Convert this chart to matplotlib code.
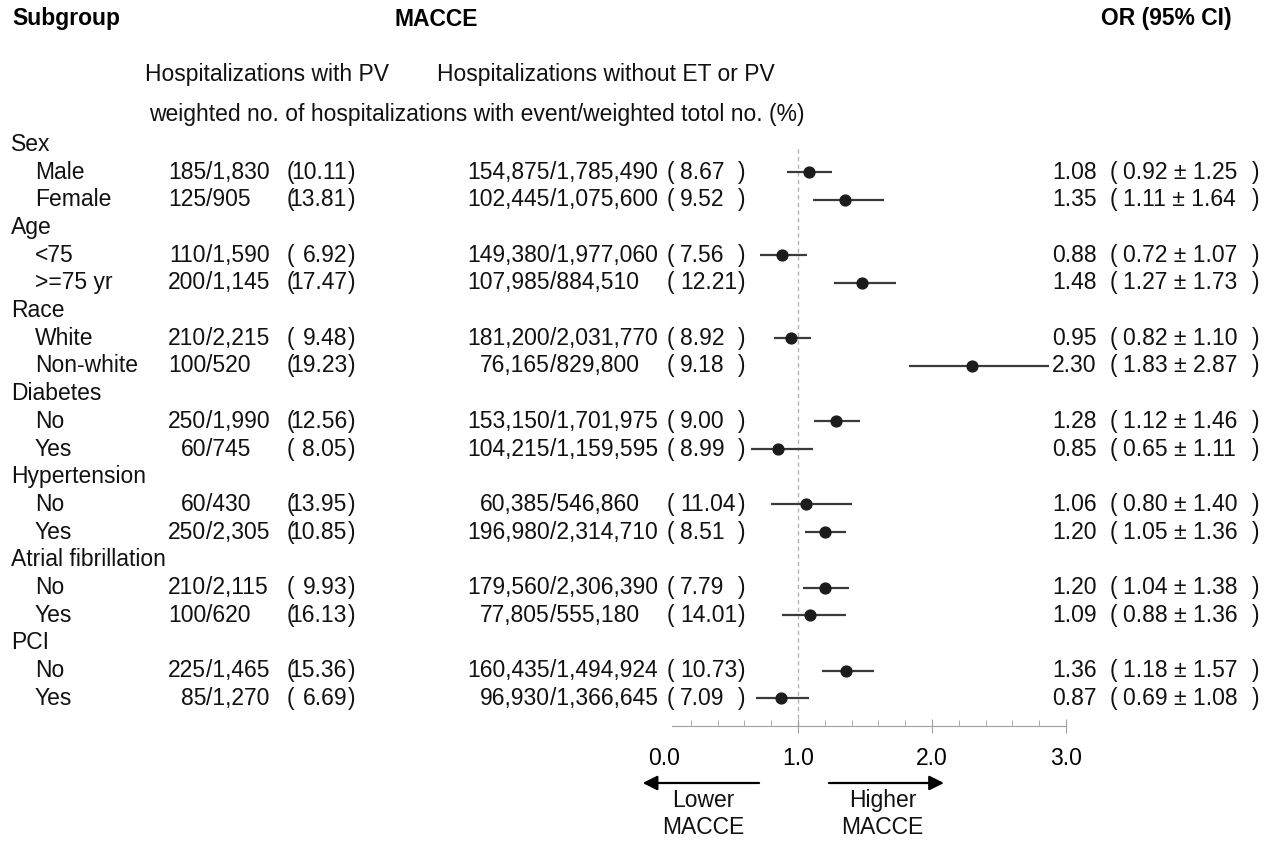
import matplotlib
matplotlib.use("Agg")
import matplotlib.pyplot as plt
from matplotlib.transforms import blended_transform_factory
from matplotlib.ticker import MultipleLocator

W, H = 1272, 841
FS = 16.5
plt.rcParams['font.family'] = ['Liberation Sans', 'DejaVu Sans']

# subgroups and their rows
groups = ["Sex", "Age", "Race", "Diabetes", "Hypertension", "Atrial fibrillation", "PCI"]
items = [["Male", "Female"], ["<75", ">=75 yr"], ["White", "Non-white"], ["No", "Yes"],
         ["No", "Yes"], ["No", "Yes"], ["No", "Yes"]]

# hospitalizations with PV
pv_events = [185, 125, 110, 200, 210, 100, 250, 60, 60, 250, 210, 100, 225, 85]
pv_totals = [1830, 905, 1590, 1145, 2215, 520, 1990, 745, 430, 2305, 2115, 620, 1465, 1270]
pv_pct = [10.11, 13.81, 6.92, 17.47, 9.48, 19.23, 12.56, 8.05, 13.95, 10.85, 9.93, 16.13, 15.36, 6.69]

# hospitalizations without ET or PV
ref_events = [154875, 102445, 149380, 107985, 181200, 76165, 153150, 104215,
              60385, 196980, 179560, 77805, 160435, 96930]
ref_totals = [1785490, 1075600, 1977060, 884510, 2031770, 829800, 1701975, 1159595,
              546860, 2314710, 2306390, 555180, 1494924, 1366645]
ref_pct = [8.67, 9.52, 7.56, 12.21, 8.92, 9.18, 9.00, 8.99, 11.04, 8.51, 7.79, 14.01, 10.73, 7.09]

# odds ratios
or_est = [1.08, 1.35, 0.88, 1.48, 0.95, 2.30, 1.28, 0.85, 1.06, 1.20, 1.20, 1.09, 1.36, 0.87]
or_lo = [0.92, 1.11, 0.72, 1.27, 0.82, 1.83, 1.12, 0.65, 0.80, 1.05, 1.04, 0.88, 1.18, 0.69]
or_hi = [1.25, 1.64, 1.07, 1.73, 1.10, 2.87, 1.46, 1.11, 1.40, 1.36, 1.38, 1.36, 1.57, 1.08]

fig = plt.figure(figsize=(W / 100, H / 100), dpi=100)
ax = fig.add_axes([664 / W, 1 - 726 / H, (1066 - 664) / W, (726 - 130) / H])
ax.set_xlim(0, 3)
ax.set_ylim(21.0, -0.52)

tr = blended_transform_factory(fig.transFigure, ax.transData)
trx = blended_transform_factory(ax.transData, fig.transFigure)


def px(x):
    return x / W


def txt(x, y, s, **kw):
    kw.setdefault('ha', 'left')
    ax.text(px(x), y, s, transform=tr, va='center', fontsize=FS, color='#111111',
            clip_on=False, **kw)


# build rows
row = 0
k = 0
ys = []
for g, its in zip(groups, items):
    txt(11, row, g)
    row += 1
    for it in its:
        txt(35, row, it)
        txt(206, row, f"{pv_events[k]:,}", ha='right')
        txt(206, row, f"/{pv_totals[k]:,}")
        txt(287, row, "(")
        txt(347, row, f"{pv_pct[k]:.2f}", ha='right')
        txt(348, row, ")")
        txt(550, row, f"{ref_events[k]:,}", ha='right')
        txt(550, row, f"/{ref_totals[k]:,}")
        txt(667, row, "(")
        txt(680, row, f"{ref_pct[k]:.2f}")
        txt(745, row, ")", ha='right')
        txt(1052, row, f"{or_est[k]:.2f}")
        txt(1110, row, "(")
        txt(1123, row, f"{or_lo[k]:.2f} \u00b1 {or_hi[k]:.2f}")
        txt(1259, row, ")", ha='right')
        ys.append(row)
        row += 1
        k += 1

# forest marks
ax.hlines(ys, or_lo, or_hi, color='#3a3a3a', lw=1.6, zorder=2)
ax.plot(or_est, ys, 'o', color='#1c1c1c', ms=7.8, zorder=3)
ax.axvline(1.0, ymax=(726 - 147) / (726 - 130), color='#b5b5b5', lw=1, ls=(0, (3, 2.5)), zorder=1)

# axis styling
for s in ['left', 'top', 'right']:
    ax.spines[s].set_visible(False)
ax.spines['bottom'].set_bounds(0.06, 3.0)
ax.spines['bottom'].set_color('#a0a0a0')
ax.set_yticks([])
ax.set_xticks([0, 1, 2, 3])
ax.set_xticklabels(["0.0", "1.0", "2.0", "3.0"], fontsize=FS)
ax.xaxis.set_minor_locator(MultipleLocator(0.2))
ax.tick_params(axis='x', which='major', direction='inout', length=10, color='#a0a0a0', pad=10)
ax.tick_params(axis='x', which='minor', direction='in', length=4, color='#a0a0a0')
ax.xaxis.get_major_ticks()[0].tick1line.set_visible(False)
ax.patch.set_visible(False)

# direction arrows
ya = 1 - 783 / H
ax.annotate("", xy=(-0.18, ya), xytext=(0.73, ya), xycoords=trx, textcoords=trx,
            arrowprops=dict(arrowstyle="-|>", color='black', lw=1.6, mutation_scale=22),
            annotation_clip=False)
ax.annotate("", xy=(2.11, ya), xytext=(1.21, ya), xycoords=trx, textcoords=trx,
            arrowprops=dict(arrowstyle="-|>", color='black', lw=1.6, mutation_scale=22),
            annotation_clip=False)
ax.text(0.29, 1 - 814 / H, "Lower\nMACCE", transform=trx, ha='center', va='center',
        fontsize=FS, linespacing=1.25, color='#111111')
ax.text(1.63, 1 - 814 / H, "Higher\nMACCE", transform=trx, ha='center', va='center',
        fontsize=FS, linespacing=1.25, color='#111111')

# headers
fig.text(px(12), 1 - 19 / H, "Subgroup", fontsize=FS, weight='bold', va='center')
fig.text(px(394), 1 - 19 / H, "MACCE", fontsize=FS, weight='bold', va='center')
fig.text(px(1232), 1 - 19 / H, "OR (95% CI)", fontsize=FS, weight='bold', va='center', ha='right')
fig.text(px(145), 1 - 75 / H, "Hospitalizations with PV", fontsize=FS, va='center', color='#111111')
fig.text(px(437), 1 - 75 / H, "Hospitalizations without ET or PV", fontsize=FS, va='center',
         color='#111111')
fig.text(px(149), 1 - 115 / H,
         "weighted no. of hospitalizations with event/weighted totol no. (%)",
         fontsize=FS, va='center', color='#111111')

fig.savefig("out.png", dpi=100)
